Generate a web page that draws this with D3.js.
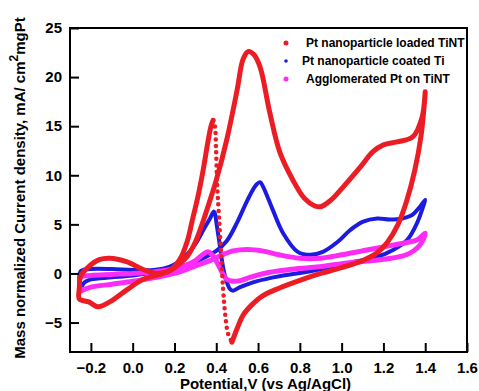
<!DOCTYPE html>
<html>
<head>
<meta charset="utf-8">
<script src="https://cdn.jsdelivr.net/npm/d3@7"></script>
<style>
    body { margin: 0; background: #fff; }
    svg text { font-family: "Liberation Sans", Arial, sans-serif; font-weight: bold; fill: #000; }
</style>
</head>
<body>
<svg id="chart" width="479" height="391"></svg>
<script>
// Cyclic voltammograms, [potential V, current density]
const redMain = [
    [0.475, -7.0], [0.5, -5.6], [0.53, -4.2], [0.57, -3.2], [0.62, -2.3], [0.7, -1.5], [0.8, -0.7],
    [0.9, 0.0], [1.0, 0.6], [1.1, 1.3], [1.17, 2.1], [1.22, 3.2], [1.27, 5.0], [1.31, 7.3],
    [1.35, 10.5], [1.38, 14.0], [1.4, 18.5],
    [1.385, 15.9], [1.34, 13.9], [1.265, 13.4], [1.2, 13.1], [1.15, 12.4], [1.088, 10.8],
    [1.007, 8.8], [0.945, 7.4], [0.9, 6.8], [0.87, 6.9], [0.82, 7.7], [0.767, 9.5], [0.705, 12.3],
    [0.657, 16.3], [0.61, 21.0], [0.58, 22.3], [0.552, 22.6], [0.528, 21.8], [0.5, 18.7],
    [0.45, 13.6], [0.4, 9.5], [0.36, 6.8], [0.322, 4.4], [0.3, 3.2], [0.26, 1.7], [0.22, 0.9],
    [0.18, 0.3], [0.13, -0.1], [0.05, -0.6], [-0.03, -1.7], [-0.11, -2.9], [-0.166, -3.4],
    [-0.21, -2.9], [-0.255, -2.6],
    [-0.255, -1.4], [-0.25, -0.3], [-0.21, 0.7], [-0.16, 1.4], [-0.11, 1.55], [-0.03, 1.2],
    [0.05, 0.4], [0.12, 0.0], [0.18, 0.35], [0.225, 1.4], [0.26, 3.2], [0.289, 5.75],
    [0.31, 7.6], [0.337, 10.5], [0.36, 13.4], [0.375, 15.0], [0.385, 15.6]
];
// fast sweep part, sparse markers
const redSweep = [
    [0.385, 15.6], [0.394, 14.9], [0.399, 12.6], [0.404, 9.2], [0.413, 5.75], [0.423, 2.1],
    [0.432, -1.4], [0.442, -4.0], [0.456, -6.1], [0.475, -7.0]
];
const blueLoop = [
    [-0.25, -1.6], [-0.23, -0.9], [-0.2, -0.6], [-0.1, -0.4], [0, -0.2], [0.1, 0.1], [0.2, 0.5],
    [0.3, 1.2], [0.4, 2.3], [0.45, 3.3], [0.5, 5.2], [0.55, 7.5], [0.59, 9.0], [0.61, 9.3],
    [0.625, 8.8], [0.67, 6.5], [0.72, 4.1], [0.79, 2.2], [0.85, 1.9], [0.91, 2.2], [0.98, 3.2],
    [1.04, 4.4], [1.1, 5.25], [1.17, 5.6], [1.23, 5.5], [1.29, 5.6], [1.34, 6.0], [1.375, 6.8],
    [1.4, 7.5],
    [1.39, 6.8], [1.36, 5.1], [1.313, 3.4], [1.246, 2.4], [1.17, 1.7], [1.04, 1.1], [0.88, 0.35],
    [0.8, 0.05], [0.72, -0.2], [0.672, -0.4], [0.576, -0.9], [0.514, -1.4], [0.48, -1.75],
    [0.466, -1.6], [0.447, -0.66], [0.432, 0.7], [0.418, 2.7], [0.404, 4.7], [0.389, 6.3],
    [0.37, 5.6], [0.34, 4.5], [0.3, 3.0], [0.25, 1.7], [0.2, 0.9], [0.15, 0.5], [0.1, 0.35],
    [0, 0.35], [-0.1, 0.45], [-0.2, 0.45], [-0.25, 0.2], [-0.25, -1.6]
];
const magentaLoop = [
    [-0.25, -1.8], [-0.2, -1.4], [-0.1, -1.1], [0, -0.8], [0.1, -0.45], [0.2, 0.0], [0.28, 0.6],
    [0.33, 1.0], [0.38, 1.4], [0.42, 1.8], [0.48, 2.3], [0.55, 2.45], [0.62, 2.3], [0.7, 1.9],
    [0.8, 1.55], [0.9, 1.55], [1.0, 1.9], [1.1, 2.3], [1.2, 2.7], [1.3, 3.1], [1.36, 3.4],
    [1.4, 4.1],
    [1.375, 2.9], [1.31, 1.9], [1.2, 1.45], [1.04, 1.1], [0.88, 0.65], [0.75, 0.4], [0.65, 0.1],
    [0.56, -0.4], [0.52, -0.7], [0.48, -0.8], [0.45, -0.6], [0.428, 0.1], [0.404, 1.1],
    [0.38, 1.9], [0.361, 2.2], [0.34, 2.0], [0.3, 1.3], [0.25, 0.8], [0.18, 0.4], [0.1, 0.15],
    [0, 0.0], [-0.1, -0.1], [-0.2, -0.2], [-0.25, -0.4], [-0.25, -1.8]
];

const xTicks = [-0.2, 0.0, 0.2, 0.4, 0.6, 0.8, 1.0, 1.2, 1.4, 1.6];
const yTicks = [-5, 0, 5, 10, 15, 20, 25];
const seriesNames = ['Pt nanoparticle loaded TiNT', 'Pt nanoparticle coated Ti', 'Agglomerated Pt on TiNT'];
const seriesColors = ['#ec1c24', '#1c1ce0', '#fb2cf6'];

const svg = d3.select('#chart');
const margin = { left: 70, right: 12, top: 28, bottom: 39 };
const width = 479, height = 391;

const x = d3.scaleLinear().domain([-0.3, 1.6]).range([margin.left, width - margin.right]);
const y = d3.scaleLinear().domain([-8, 25]).range([height - margin.bottom, margin.top]);

const line = d3.line()
    .x(d => x(d[0]))
    .y(d => y(d[1]))
    .curve(d3.curveCatmullRom.alpha(0.5));

// Curves (blue under magenta under red)
const plot = svg.append('g');
plot.append('path').attr('d', line(blueLoop))
    .attr('fill', 'none').attr('stroke', seriesColors[1]).attr('stroke-width', 4)
    .attr('stroke-linejoin', 'round');
plot.append('path').attr('d', line(magentaLoop))
    .attr('fill', 'none').attr('stroke', seriesColors[2]).attr('stroke-width', 5)
    .attr('stroke-linejoin', 'round');
plot.append('path').attr('d', line(redMain))
    .attr('fill', 'none').attr('stroke', seriesColors[0]).attr('stroke-width', 5)
    .attr('stroke-linejoin', 'round').attr('stroke-linecap', 'round');
plot.append('path').attr('d', line(redSweep))
    .attr('fill', 'none').attr('stroke', seriesColors[0]).attr('stroke-width', 4.5)
    .attr('stroke-linecap', 'round').attr('stroke-dasharray', '0 6.5');

// Axes: ticks point inward
const xAxis = d3.axisBottom(x).tickValues(xTicks).tickFormat(d3.format('.1f'))
    .tickSizeInner(-9).tickSizeOuter(0).tickPadding(10);
const yAxis = d3.axisLeft(y).tickValues(yTicks).tickFormat(d3.format('d'))
    .tickSizeInner(-9).tickSizeOuter(0).tickPadding(8);

const gx = svg.append('g').attr('transform', `translate(0,${y(-8)})`).call(xAxis);
const gy = svg.append('g').attr('transform', `translate(${x(-0.3)},0)`).call(yAxis);
[gx, gy].forEach(g => {
    g.select('.domain').remove();
    g.selectAll('.tick line').attr('stroke', '#000').attr('stroke-width', 2);
    g.selectAll('.tick text').attr('font-size', 15).attr('fill', '#000')
        .style('font-family', '"Liberation Sans", Arial, sans-serif').style('font-weight', 'bold');
});

// Frame
svg.append('rect')
    .attr('x', x(-0.3)).attr('y', y(25))
    .attr('width', x(1.6) - x(-0.3)).attr('height', y(-8) - y(25))
    .attr('fill', 'none').attr('stroke', '#000').attr('stroke-width', 2);

// Axis titles
svg.append('text')
    .attr('x', (x(-0.3) + x(1.6)) / 2 - 3).attr('y', 389)
    .attr('text-anchor', 'middle').attr('font-size', 15)
    .text('Potential,V (vs Ag/AgCl)');

const yTitle = svg.append('text')
    .attr('transform', 'translate(25,188) rotate(-90)')
    .attr('text-anchor', 'middle').attr('font-size', 15);
yTitle.append('tspan').text('Mass normalized Current density, mA/ cm');
yTitle.append('tspan').attr('dy', -7).attr('font-size', 12).text('2');
yTitle.append('tspan').attr('dy', 7).text('mgPt');

// Legend
const legend = svg.append('g');
seriesNames.forEach((name, i) => {
    const ly = 43 + i * 18;
    legend.append('circle').attr('cx', 286).attr('cy', ly).attr('r', i === 1 ? 1.8 : 2.5)
        .attr('fill', seriesColors[i]);
    legend.append('text')
        .attr('x', i === 1 ? 302 : 306).attr('y', ly + 4)
        .attr('font-size', 12)
        .text(name);
});
</script>
</body>
</html>
